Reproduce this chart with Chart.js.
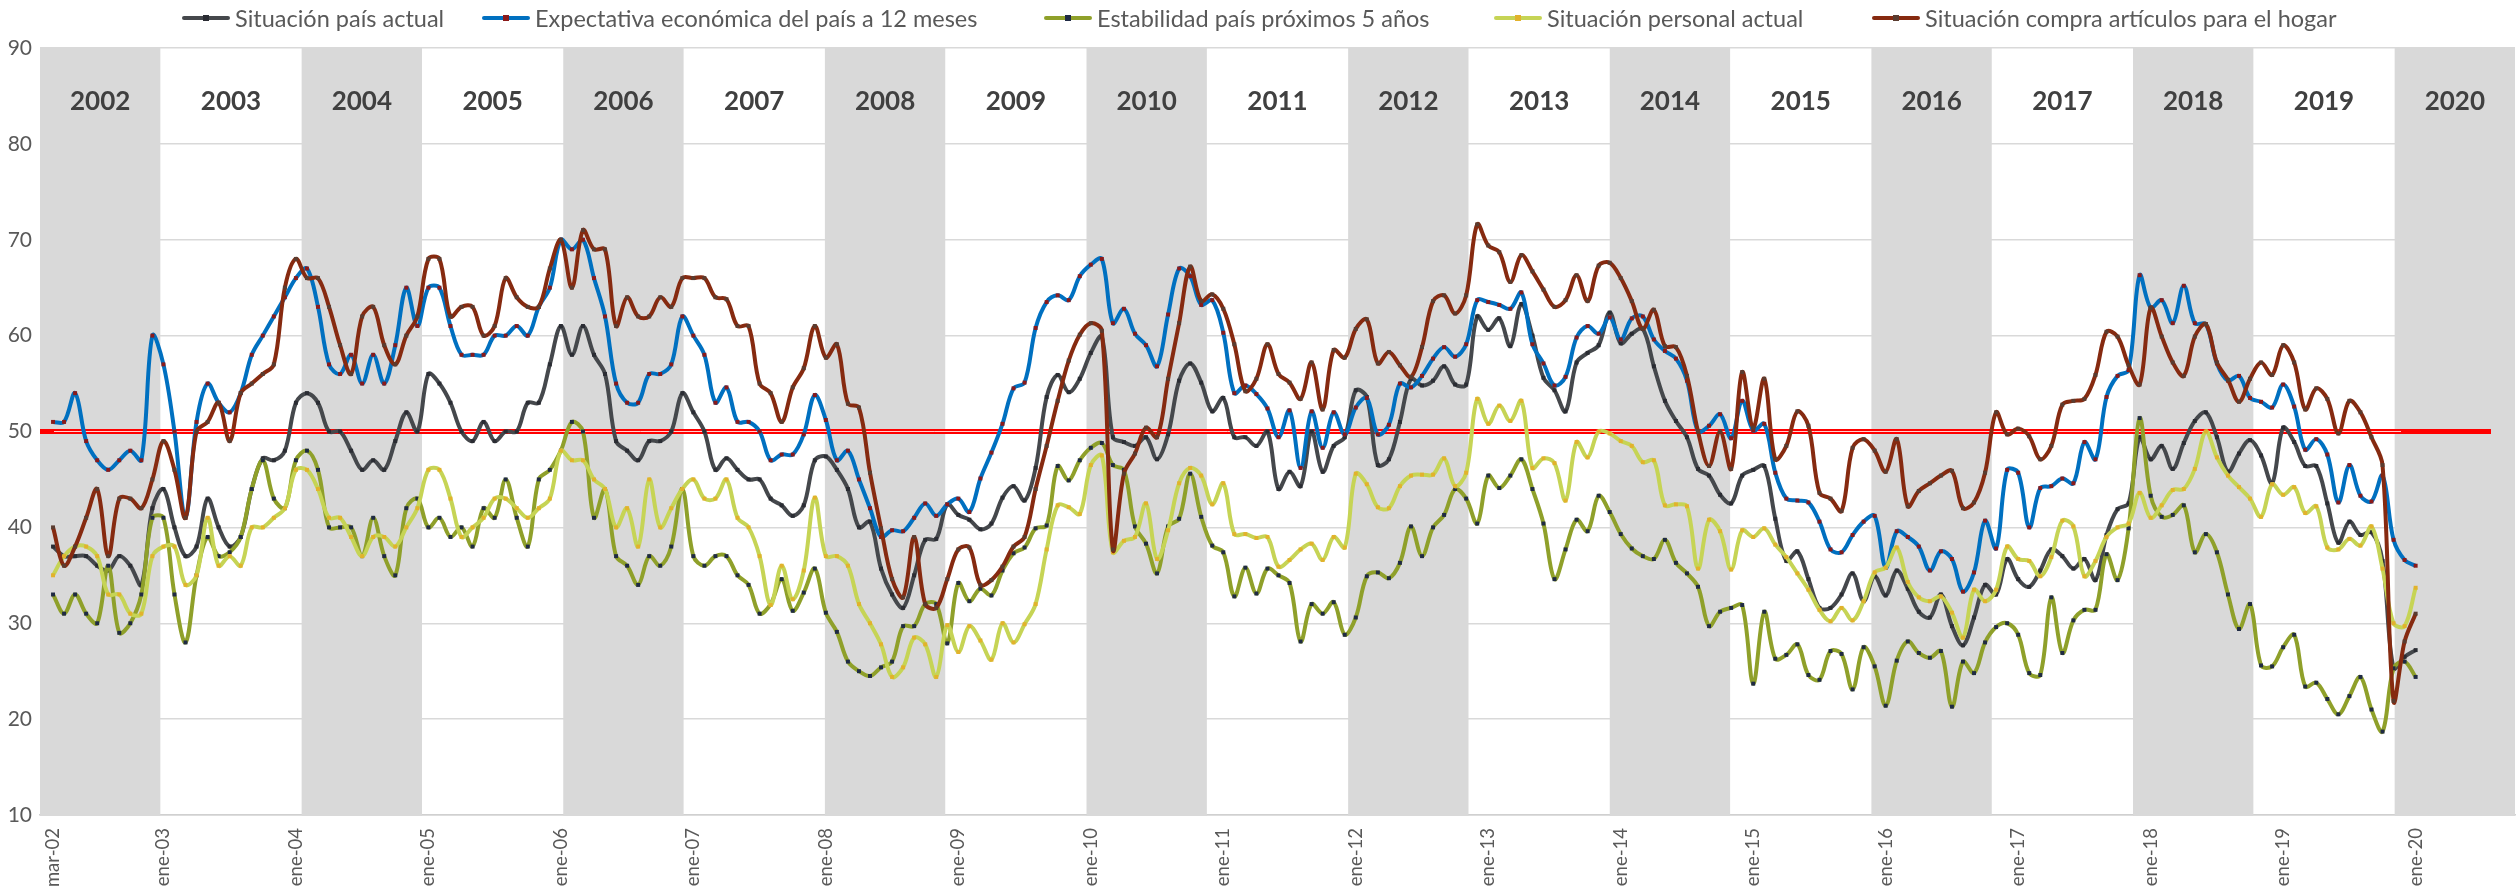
<!DOCTYPE html>
<html>
<head>
<meta charset="utf-8">
<script src="https://cdn.jsdelivr.net/npm/chart.js@4.4.1/dist/chart.umd.min.js"></script>
<style>
  html, body { margin: 0; padding: 0; background: #fff; }
  #wrap { width: 2519px; height: 887px; }
</style>
</head>
<body>
<div id="wrap"><canvas id="chart" width="2519" height="887"></canvas></div>
<script>
// monthly series, mar-02 .. ene-20
const situacionPais = [
  38, 37, 37, 37, 36, 35.5, 37, 36, 34, 42, 44, 40, 37, 38, 43, 40, 38, 39, 44,
  47.2, 47, 48, 53, 54, 53, 50, 50, 48, 46, 47, 46, 49, 52, 50, 56, 55, 53, 50, 49, 51,
  49, 50, 50, 53, 53, 57, 61, 58, 61, 58, 56, 49, 48, 47, 49, 49, 50, 54, 52, 50,
  46, 47.2, 46, 45, 45, 43, 42.3, 41.2, 42.3, 47, 47.4, 46, 44, 40, 40.6, 35.7, 33, 31.6, 35, 38.7, 38.8,
  42.4, 41.3, 40.8, 39.8, 40.4, 43.1, 44.3, 42.8, 46.2, 53.6, 55.9, 54.1, 55.5, 58.2, 59.9, 49.4, 48.9, 48.5, 49.4, 47.1,
  49.7, 55.3, 57.1, 55.1, 52.1, 53.5, 49.4, 49.4, 48.5, 50, 44, 45.8, 44.3, 50, 45.8, 48.5, 49.4, 54.3, 53.6, 46.5,
  47.1, 51, 55.5, 54.8, 55.3, 56.8, 54.9, 54.9, 62, 60.6, 61.8, 58.9, 63.3, 60, 55.6, 54.3, 52.1, 57.2, 58.2, 59, 62.4,
  59.2, 60.2, 60.7, 56.8, 53.2, 51.1, 49.4, 46.1, 45.4, 43.4, 42.5, 45.4, 46, 46.4, 40.9, 36.5, 37.5, 34.6, 31.6, 31.6,
  33, 35.2, 32.3, 34.9, 32.9, 35.5, 33.6, 31.2, 30.6, 33, 29.7, 27.7, 30.6, 34, 33, 36.7, 34.6, 33.8, 35.5, 37.7, 37,
  35.7, 36.7, 34.5, 39.2, 41.9, 42.5, 49.4, 47.1, 48.5, 46.1, 48.8, 51.1, 52, 49.4, 45.8, 47.7, 49.1, 47.5, 44.6, 50.4,
  48.9, 46.4, 46.4, 42.5, 38.4, 40.6, 39.2, 39.5, 36.5, 25.3, 26.5, 27.2
];
const expectativa12m = [
  51, 51, 54, 49, 47, 46, 47, 48, 47, 60, 57, 50, 41, 51, 55, 53, 52, 54, 58,
  60, 62, 64, 66, 67, 63, 57, 56, 58, 55, 58, 55, 59, 65, 61, 65, 65, 61, 58, 58, 58,
  60, 60, 61, 60, 63, 65, 70, 69, 70, 66, 62, 55, 53, 53, 56, 56, 57, 62, 60, 58,
  53, 54.6, 51, 51, 50, 47, 47.6, 47.6, 49.7, 53.8, 51.2, 47, 48, 45, 42, 39, 39.7, 39.6, 41, 42.5, 41.2,
  42.4, 43, 41.6, 45.1, 47.8, 50.8, 54.5, 55.1, 60.8, 63.5, 64.2, 63.7, 66.2, 67.4, 68, 61.3, 62.8, 60.2, 59, 56.8,
  62.2, 67, 66.2, 63.2, 63.7, 60.3, 54, 54.8, 53.9, 52.4, 49.4, 52.2, 46.2, 52.1, 48.3, 52, 49.7, 52.5, 53.5, 49.7,
  50.7, 55, 54.6, 55.8, 57.6, 58.8, 57.8, 59.1, 63.7, 63.5, 63.2, 62.8, 64.5, 59.1, 57.1, 54.8, 55.7, 59.8, 61, 60.2, 61.9,
  59.6, 61.8, 62, 59.6, 58.4, 57.6, 55.3, 50, 50.6, 51.8, 49.3, 53.2, 50.1, 50.8, 45.7, 43, 42.8, 42.6, 40.6, 37.7,
  37.4, 39.2, 40.6, 41.2, 35.8, 39.6, 39, 38, 35.5, 37.5, 36.7, 33.3, 35.3, 40.7, 37.8, 46, 45.7, 40, 44.1, 44.3, 45.1,
  44.6, 48.9, 47.1, 53.6, 55.8, 56.4, 66.3, 62.9, 63.7, 61.3, 65.2, 61.3, 61.2, 57.1, 55.3, 55.8, 53.5, 53.1, 52.5, 54.9,
  52.6, 48.1, 49.2, 47.6, 42.6, 46.5, 43.3, 42.7, 45.4, 38.7, 36.6, 36
];
const estabilidad5a = [
  33, 31, 33, 31, 30, 36, 29, 30, 33, 41, 41, 33, 28, 35, 39, 37, 37.4, 39, 44,
  47, 43, 42, 47, 48, 46, 40, 40, 40, 37, 41, 37, 35, 42, 43, 40, 41, 39, 40, 38, 42,
  41, 45, 41, 38, 45, 46, 48, 51, 50, 41, 44, 37, 36, 34, 37, 36, 38, 44, 37, 36,
  37, 37, 35, 34, 31, 32, 34.6, 31.3, 33.2, 35.7, 31.1, 29.1, 26, 25, 24.5, 25.4, 26, 29.7, 29.7, 32, 32,
  27.9, 34.2, 32.3, 33.6, 32.9, 35.5, 37.3, 37.9, 39.9, 40.2, 46.4, 44.9, 47, 48.3, 48.8, 46.5, 46, 40.1, 38.3, 35.2,
  40.1, 40.9, 45.6, 41.1, 38.1, 37.4, 32.8, 35.8, 33.1, 35.7, 35, 34.2, 28.1, 32, 31, 32.2, 28.8, 30.6, 34.9, 35.3,
  34.7, 36.3, 40.1, 37, 40, 41.3, 44, 43, 40.4, 45.4, 44.1, 45.4, 47.1, 44, 40.4, 34.6, 37.7, 40.8, 39.6, 43.3, 41.6,
  39.3, 37.8, 37, 36.7, 38.7, 36.3, 35.2, 33.8, 29.7, 31.2, 31.6, 31.9, 23.7, 31.2, 26.3, 26.7, 27.8, 24.6, 24.1, 27.1,
  26.8, 23.1, 27.5, 25.5, 21.4, 26.1, 28.1, 26.9, 26.4, 27.1, 21.3, 26, 24.8, 28, 29.6, 30, 28.8, 24.8, 24.6, 32.7, 26.9,
  30.3, 31.4, 31.4, 37.2, 34.5, 39.9, 51.4, 43.3, 41.1, 41.3, 42.3, 37.4, 39.3, 37.4, 33, 29.4, 32, 25.6, 25.5, 27.5,
  28.8, 23.4, 23.8, 22.1, 20.5, 22.4, 24.4, 21, 18.7, 25.3, 26, 24.4
];
const situacionPersonal = [
  35, 37, 38, 38, 37, 33, 33, 31, 31, 37, 38, 38, 34, 35, 41, 36, 37, 36, 40,
  40, 41, 42, 46, 46, 44, 41, 41, 39, 37, 39, 39, 38, 40, 42, 46, 46, 43, 39, 40, 41,
  43, 43, 42, 41, 42, 43, 48, 47, 47, 45, 44, 40, 42, 38, 45, 40, 42, 44, 45, 43,
  43, 45, 41, 40, 37, 31.9, 36, 32.5, 35.5, 43.1, 37, 37, 36, 32, 30, 27.8, 24.4, 25.4, 28.5, 27.8, 24.4,
  29.8, 27, 29.7, 28.2, 26.2, 30, 28, 29.9, 32, 37.7, 42.3, 42.1, 41.4, 46.5, 47.5, 37.4, 38.6, 39, 42.5, 36.7,
  39.7, 44.6, 46.2, 45.4, 42.4, 44.6, 39.3, 39.3, 38.9, 39, 35.9, 36.6, 37.7, 38.3, 36.6, 39, 37.9, 45.6, 44.5, 42.1,
  42, 44.3, 45.4, 45.5, 45.5, 47.2, 44.3, 45.7, 53.4, 50.8, 52.7, 51.1, 53.2, 46.2, 47.2, 46.7, 42.8, 48.9, 47.3, 50, 49.8,
  49, 48.5, 46.8, 47, 42.3, 42.4, 42.2, 35.7, 40.8, 39.6, 35.6, 39.7, 39, 39.9, 38.2, 36.9, 35.2, 33.5, 31.4, 30.2,
  31.6, 30.3, 32.3, 35.3, 35.8, 37.9, 34.3, 32.7, 32.3, 32.8, 31.1, 28.5, 33.5, 32.3, 33.5, 38, 36.7, 36.5, 34.9, 36.9, 40.7,
  40.1, 34.9, 36.5, 39, 40, 40.4, 43.6, 41, 42.3, 43.9, 44, 46.1, 50, 47.3, 45.4, 44.2, 43, 41.1, 44.5, 43.4,
  44.2, 41.5, 42.2, 37.9, 37.7, 38.8, 38.1, 40.1, 35.7, 30, 29.7, 33.7
];
const compraHogar = [
  40, 36, 38, 41, 44, 37, 43, 43, 42, 45, 49, 46, 41, 50, 51, 53, 49, 54, 55,
  56, 57, 65, 68, 66, 66, 63, 59, 56, 62, 63, 59, 57, 60, 62, 68, 68, 62, 63, 63, 60,
  61, 66, 64, 63, 63, 67, 70, 65, 71, 69, 69, 61, 64, 62, 62, 64, 63, 66, 66, 66,
  64, 63.8, 61, 61, 55, 54, 51, 54.6, 56.6, 61, 57.7, 59.1, 52.9, 52.5, 45.7, 39.9, 34.6, 32.7, 39, 32, 31.6,
  34.6, 37.7, 37.9, 34, 34.5, 35.9, 38, 39, 44, 48.5, 53.2, 57.4, 60.1, 61.3, 60.5, 37.7, 45.6, 47.7, 50.4, 49.4,
  55.5, 61.3, 67.2, 63.6, 64.3, 62.8, 59.1, 54.2, 55.5, 59.1, 56, 55.1, 53.4, 57.2, 52.3, 58.5, 57.7, 60.7, 61.7, 57.1,
  58.3, 56.9, 55.7, 58.8, 63.6, 64.2, 62.3, 64.2, 71.6, 69.4, 68.7, 65.6, 68.4, 66.7, 64.8, 63, 63.7, 66.3, 63.6, 67.3, 67.6,
  66, 63.6, 60.7, 62.7, 58.9, 58.8, 55.8, 50, 46.4, 50, 46.1, 56.2, 50.4, 55.5, 47.1, 48.5, 52.1, 50.6, 43.6, 43,
  41.7, 48.3, 49.2, 48, 45.8, 49.2, 42.2, 43.8, 44.6, 45.4, 45.9, 42, 42.6, 45.7, 52, 49.7, 50.3, 49.5, 47.1, 48.5, 52.8,
  53.2, 53.4, 55.9, 60.4, 59.9, 56.9, 54.9, 62.9, 59.9, 57.2, 55.8, 59.9, 61.2, 57.2, 55.4, 53.1, 55.5, 57.2, 55.9, 59,
  57.2, 52.3, 54.5, 53.4, 49.8, 53.2, 52, 49.4, 46.5, 21.9, 28.1, 31
];

const seriesNames = [
  'Situación país actual',
  'Expectativa económica del país a 12 meses',
  'Estabilidad país próximos 5 años',
  'Situación personal actual',
  'Situación compra artículos para el hogar'
];
const years = [2002, 2003, 2004, 2005, 2006, 2007, 2008, 2009, 2010, 2011,
               2012, 2013, 2014, 2015, 2016, 2017, 2018, 2019, 2020];
const shadedYears = [2002, 2004, 2006, 2008, 2010, 2012, 2014, 2016, 2018, 2020];
const threshold = 50;
const yTicks = [10, 20, 30, 40, 50, 60, 70, 80, 90];

// month categories: mar-02 ... ene-20
const monthAbbr = ['ene', 'feb', 'mar', 'abr', 'may', 'jun', 'jul', 'ago', 'sep', 'oct', 'nov', 'dic'];
const categories = situacionPais.map((_, k) => {
  const m = (2 + k) % 12;
  const yy = 2002 + Math.floor((2 + k) / 12);
  return monthAbbr[m] + '-' + String(yy).slice(2);
});
const tickIndex = categories.map((c, k) => (k === 0 || c.startsWith('ene')) ? k : -1).filter(k => k >= 0);

const lineColors   = ['#45484c', '#0070c0', '#8fa02a', '#c6d455', '#862a10'];
const markerColors = ['#2a2c33', '#8b1a1a', '#1f2a44', '#e2b22c', '#5a3c30'];
const drawOrder    = [4, 3, 2, 1, 0];
const allSeries = [situacionPais, expectativa12m, estabilidad5a, situacionPersonal, compraHogar];

// legend: left edge of each entry's line sample
const legendX = [182, 482, 1044, 1494, 1872];

const bandsPlugin = {
  id: 'yearBands',
  beforeDatasetsDraw(chart) {
    const { ctx, chartArea, scales } = chart;
    const yr = scales.yr, y = scales.y;
    ctx.save();
    ctx.beginPath();
    ctx.rect(chartArea.left - 6, chartArea.top, chartArea.right - chartArea.left + 6, chartArea.bottom - chartArea.top + 2);
    ctx.clip();
    ctx.fillStyle = '#d9d9d9';
    shadedYears.forEach(yv => {
      const l = yr.getPixelForValue(yv - 0.46), r = yr.getPixelForValue(yv + 0.46);
      ctx.fillRect(l, y.getPixelForValue(90), r - l, y.getPixelForValue(10) - y.getPixelForValue(90) + 1);
    });
    // threshold line
    const ty = y.getPixelForValue(threshold);
    const x0 = yr.getPixelForValue(2002 - 0.46), x1 = chartArea.right - 24;
    ctx.strokeStyle = '#ff0000'; ctx.lineWidth = 5;
    ctx.beginPath(); ctx.moveTo(x0, ty); ctx.lineTo(x1, ty); ctx.stroke();
    ctx.strokeStyle = '#ffd0d0'; ctx.lineWidth = 1;
    ctx.beginPath(); ctx.moveTo(x0 + 14, ty); ctx.lineTo(x1 - 90, ty); ctx.stroke();
    // year labels
    ctx.font = 'bold 26px Lato';
    ctx.fillStyle = '#404040';
    ctx.textAlign = 'center';
    ctx.textBaseline = 'middle';
    years.forEach(yv => ctx.fillText(String(yv), yr.getPixelForValue(yv), y.getPixelForValue(84.4)));
    ctx.restore();
  }
};

const legendPlugin = {
  id: 'lineLegend',
  afterDraw(chart) {
    const ctx = chart.ctx;
    const yc = 18;
    ctx.save();
    ctx.font = '23.5px Lato';
    ctx.textAlign = 'left';
    ctx.textBaseline = 'middle';
    seriesNames.forEach((name, i) => {
      const x = legendX[i];
      ctx.strokeStyle = lineColors[i];
      ctx.lineWidth = 4;
      ctx.lineCap = 'round';
      ctx.beginPath(); ctx.moveTo(x + 2, yc); ctx.lineTo(x + 46, yc); ctx.stroke();
      ctx.fillStyle = markerColors[i];
      ctx.fillRect(x + 21, yc - 3, 6, 6);
      ctx.fillStyle = '#595959';
      ctx.fillText(name, x + 53, yc + 1);
    });
    ctx.restore();
  }
};

Chart.defaults.font.family = 'Lato';
Chart.defaults.color = '#595959';

new Chart(document.getElementById('chart'), {
  type: 'line',
  data: {
    datasets: allSeries.map((vals, i) => ({
      label: seriesNames[i],
      data: vals.map((v, k) => ({ x: k, y: v })),
      borderColor: lineColors[i],
      backgroundColor: lineColors[i],
      borderWidth: 4,
      tension: 0.35,
      pointStyle: 'rect',
      pointRadius: 2.8,
      pointBorderWidth: 0,
      pointBackgroundColor: markerColors[i],
      order: drawOrder[i]
    }))
  },
  options: {
    responsive: false,
    animation: false,
    events: [],
    layout: { padding: { left: 0, right: 0, top: 48, bottom: 0 } },
    plugins: {
      tooltip: { enabled: false },
      legend: { display: false }
    },
    scales: {
      x: {
        type: 'linear',
        min: -1.18,
        max: 223,
        grid: { display: false },
        border: { display: true, color: '#d0d0d0', width: 1.5 },
        afterBuildTicks(axis) { axis.ticks = tickIndex.map(v => ({ value: v })); },
        afterFit(axis) { axis.height = 72; },
        ticks: {
          autoSkip: false,
          minRotation: 90,
          maxRotation: 90,
          padding: 5,
          font: { size: 18.5 },
          color: '#595959',
          callback: v => categories[v]
        }
      },
      yr: {
        type: 'linear',
        display: false,
        position: 'top',
        min: 2001.54,
        max: 2020.46
      },
      y: {
        min: 10,
        max: 90,
        afterBuildTicks(axis) { axis.ticks = yTicks.map(v => ({ value: v })); },
        afterFit(axis) { axis.width = 40; },
        grid: { color: '#d9d9d9', lineWidth: 1.5, drawTicks: false },
        border: { display: false },
        ticks: { padding: 8, font: { size: 21 }, color: '#595959' }
      }
    }
  },
  plugins: [bandsPlugin, legendPlugin]
});
</script>
</body>
</html>
